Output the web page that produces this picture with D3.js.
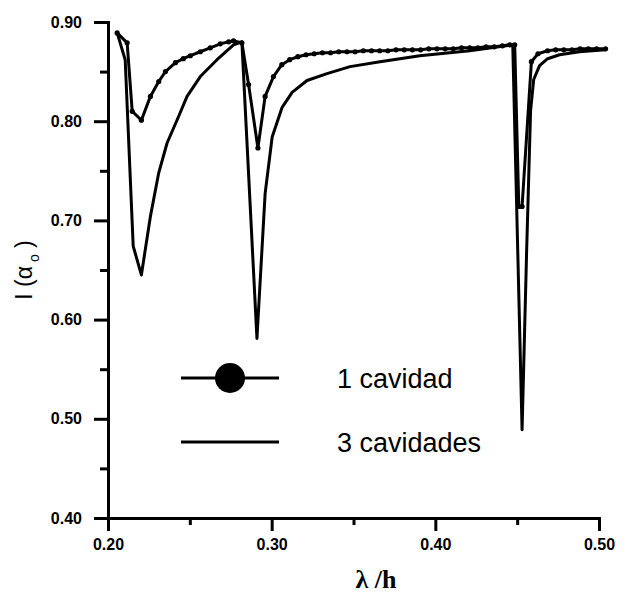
<!DOCTYPE html>
<html>
<head>
<meta charset="utf-8">
<script src="https://cdn.jsdelivr.net/npm/d3@7"></script>
<style>
  body { margin: 0; background: #fff; }
</style>
</head>
<body>
<div id="chart"></div>
<script>
var margin = {top: 22, right: 29, bottom: 81, left: 108},
    width = 628,
    height = 599,
    plot_w = width - margin.left - margin.right,
    plot_h = height - margin.top - margin.bottom;

// 1 cavidad (with markers)
var cav1_x = [0.2056, 0.2117, 0.2148, 0.2204, 0.2259, 0.2310, 0.2351, 0.2412, 0.2460, 0.2503,
              0.2564, 0.2625, 0.2686, 0.2737, 0.2767, 0.2818, 0.2859, 0.2916, 0.2960, 0.3011,
              0.3062, 0.3110, 0.3160, 0.3210, 0.3260, 0.3310, 0.3360, 0.3410, 0.3460, 0.3510,
              0.3560, 0.3610, 0.3660, 0.3710, 0.3760, 0.3810, 0.3860, 0.3910, 0.3960, 0.4010,
              0.4060, 0.4110, 0.4160, 0.4210, 0.4260, 0.4310, 0.4360, 0.4410, 0.4455, 0.4485,
              0.4510, 0.4530, 0.4587, 0.4627, 0.4686, 0.4735, 0.4785, 0.4835, 0.4885, 0.4935,
              0.4985, 0.5040];
var cav1_y = [0.889, 0.879, 0.810, 0.801, 0.825, 0.840, 0.850, 0.859, 0.863, 0.866,
              0.870, 0.874, 0.878, 0.880, 0.881, 0.879, 0.837, 0.773, 0.825, 0.845,
              0.857, 0.862, 0.865, 0.867, 0.868, 0.869, 0.869, 0.870, 0.870, 0.870,
              0.871, 0.871, 0.871, 0.871, 0.872, 0.872, 0.872, 0.872, 0.873, 0.873,
              0.873, 0.873, 0.874, 0.874, 0.874, 0.875, 0.875, 0.876, 0.877, 0.877,
              0.714, 0.714, 0.860, 0.868, 0.871, 0.872, 0.872, 0.872, 0.873, 0.873,
              0.873, 0.873];

// 3 cavidades (plain line)
var cav3_x = [0.2056, 0.2105, 0.2154, 0.2204, 0.2259, 0.2310, 0.2361, 0.2432, 0.2483, 0.2564,
              0.2666, 0.2767, 0.2818, 0.2910, 0.2960, 0.3003, 0.3064, 0.3125, 0.3216, 0.3338,
              0.3479, 0.3662, 0.3905, 0.4210, 0.4473, 0.4530, 0.4558, 0.4582, 0.4601, 0.4637,
              0.4686, 0.4759, 0.4881, 0.5040];
var cav3_y = [0.889, 0.862, 0.674, 0.645, 0.704, 0.748, 0.778, 0.805, 0.825, 0.845,
              0.862, 0.877, 0.880, 0.581, 0.727, 0.784, 0.814, 0.829, 0.841, 0.848,
              0.855, 0.860, 0.866, 0.871, 0.877, 0.489, 0.670, 0.811, 0.842, 0.856,
              0.863, 0.867, 0.870, 0.872];

var x_major = [0.20, 0.30, 0.40, 0.50],
    x_minor = [0.25, 0.35, 0.45],
    y_major = [0.40, 0.50, 0.60, 0.70, 0.80, 0.90],
    y_minor = [0.45, 0.55, 0.65, 0.75, 0.85];

var legend_labels = ["1 cavidad", "3 cavidades"];

var svg = d3.select("#chart").append("svg")
    .attr("width", width)
    .attr("height", height);

var canvas = svg.append("g")
    .attr("transform", "translate(" + margin.left + "," + margin.top + ")");

var x = d3.scaleLinear().domain([0.2, 0.5]).range([0, plot_w]);
var y = d3.scaleLinear().domain([0.4, 0.9]).range([plot_h, 0]);

function styleAxis(g) {
  g.selectAll("line, path")
    .attr("stroke", "#000")
    .attr("stroke-width", 3);
  g.selectAll("text")
    .attr("font-family", "Arial, 'Liberation Sans', sans-serif")
    .attr("font-weight", "bold")
    .attr("font-size", "16px")
    .attr("fill", "#000");
}

// minor ticks, then major ticks with labels
canvas.append("g")
    .attr("transform", "translate(0," + plot_h + ")")
    .call(d3.axisBottom(x).tickValues(x_minor).tickSize(7).tickFormat(""))
    .call(styleAxis);
canvas.append("g")
    .call(d3.axisLeft(y).tickValues(y_minor).tickSize(8).tickFormat(""))
    .call(styleAxis);
canvas.append("g")
    .attr("transform", "translate(0," + plot_h + ")")
    .call(d3.axisBottom(x).tickValues(x_major).tickSize(13).tickSizeOuter(0).tickPadding(8).tickFormat(d3.format(".2f")))
    .call(styleAxis);
canvas.append("g")
    .call(d3.axisLeft(y).tickValues(y_major).tickSize(14).tickSizeOuter(0).tickPadding(12).tickFormat(d3.format(".2f")))
    .call(styleAxis);

var cav1 = cav1_x.map(function (d, i) { return [d, cav1_y[i]]; });
var cav3 = cav3_x.map(function (d, i) { return [d, cav3_y[i]]; });

var line = d3.line()
    .x(function (d) { return x(d[0]); })
    .y(function (d) { return y(d[1]); });

canvas.append("path")
    .datum(cav3)
    .attr("d", line)
    .attr("fill", "none")
    .attr("stroke", "#000")
    .attr("stroke-width", 3)
    .attr("stroke-linejoin", "round");

canvas.append("path")
    .datum(cav1)
    .attr("d", line)
    .attr("fill", "none")
    .attr("stroke", "#000")
    .attr("stroke-width", 3)
    .attr("stroke-linejoin", "round");

canvas.selectAll("circle.cav1")
    .data(cav1)
    .enter()
      .append("circle")
      .attr("class", "cav1")
      .attr("cx", function (d) { return x(d[0]); })
      .attr("cy", function (d) { return y(d[1]); })
      .attr("r", 2.6)
      .attr("fill", "#000");

// legend
var leg = svg.append("g");
var leg_y = [378, 442];
leg_y.forEach(function (ly, i) {
  leg.append("line")
    .attr("x1", 181).attr("x2", 279)
    .attr("y1", ly).attr("y2", ly)
    .attr("stroke", "#000")
    .attr("stroke-width", 3);
  if (i == 0) {
    leg.append("circle")
      .attr("cx", 230).attr("cy", ly)
      .attr("r", 15)
      .attr("fill", "#000");
  }
  leg.append("text")
    .text(legend_labels[i])
    .attr("x", 337)
    .attr("y", ly + 10)
    .attr("font-family", "Arial, 'Liberation Sans', sans-serif")
    .attr("font-size", "27px")
    .attr("fill", "#000");
});

// axis titles
svg.append("text")
    .attr("x", 376)
    .attr("y", 588)
    .attr("text-anchor", "middle")
    .attr("font-family", "'Liberation Serif', 'DejaVu Serif', serif")
    .attr("font-weight", "bold")
    .attr("font-size", "26px")
    .text("λ /h");

var ytitle = svg.append("text")
    .attr("transform", "translate(32,270) rotate(-90)")
    .attr("text-anchor", "middle")
    .attr("font-family", "Arial, 'Liberation Sans', sans-serif")
    .attr("font-size", "23px")
    .attr("fill", "#000");
ytitle.append("tspan").text("I (α");
ytitle.append("tspan").attr("font-size", "14px").attr("dy", 7).text(" o");
ytitle.append("tspan").attr("dy", -7).text("  )");
</script>
</body>
</html>
